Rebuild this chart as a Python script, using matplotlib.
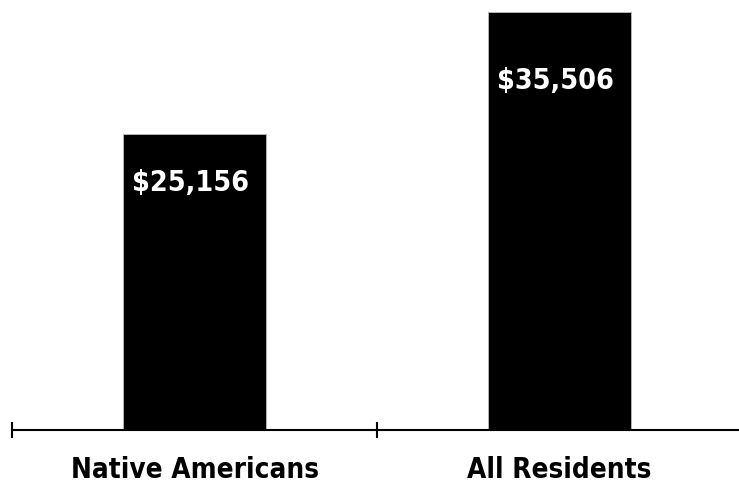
import matplotlib
matplotlib.use("Agg")
import matplotlib.pyplot as plt

# Median household income by group
categories = ["Native Americans", "All Residents"]
incomes = [25156, 35506]
value_labels = ["$25,156", "$35,506"]

W, H, DPI = 739, 483, 100
fig = plt.figure(figsize=(W / DPI, H / DPI), dpi=DPI)
ax = fig.add_axes([12 / W, 53 / H, 1 - 12 / W, 1 - 53 / H])

x = list(range(len(categories)))
ax.bar(x, incomes, width=0.39, color="black", edgecolor="#bbbbbb", linewidth=0.6)

ax.set_xlim(-0.5, (W - 12) / 365 - 0.5)
ax.set_ylim(0, 36525)

for s in ("top", "right", "left"):
    ax.spines[s].set_visible(False)
ax.spines["bottom"].set_linewidth(1.5)
ax.set_yticks([])

# Category names as major ticks (no marks), boundaries as minor tick marks
ax.set_xticks(x)
ax.set_xticklabels(categories, fontsize=20, fontweight="bold",
                   family="DejaVu Sans", fontstretch="condensed")
ax.tick_params(axis="x", which="major", length=0, pad=19)
ax.set_xticks([-0.5, 0.5], minor=True)
ax.tick_params(axis="x", which="minor", direction="inout", length=12, width=1.5)

for xi, v, lab in zip(x, incomes, value_labels):
    ax.text(xi - 0.01, v * 0.835, lab, color="white", ha="center", va="center",
            fontsize=20.5, fontweight="bold", family="DejaVu Sans",
            fontstretch="condensed")

fig.savefig("out.png", dpi=DPI)
